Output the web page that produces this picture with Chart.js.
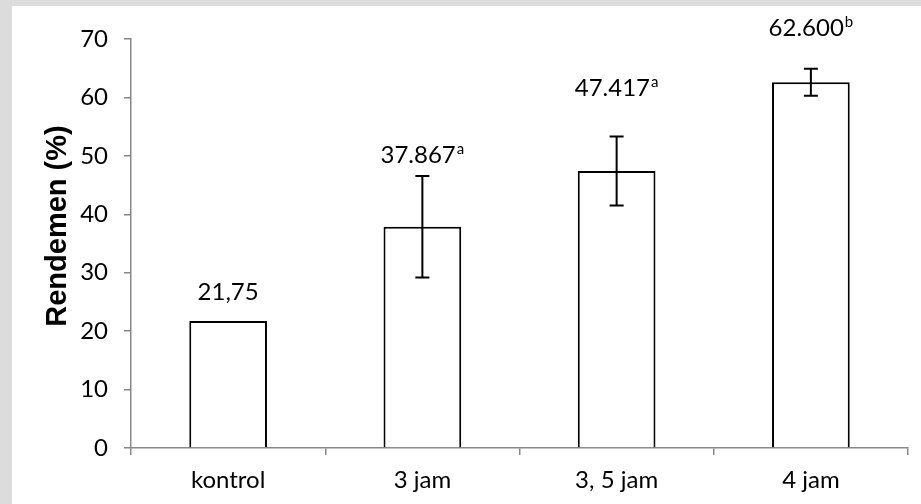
<!DOCTYPE html>
<html>
<head>
<meta charset="utf-8">
<script src="https://cdn.jsdelivr.net/npm/chart.js@4.4.1/dist/chart.umd.min.js"></script>
<style>
  html, body { margin: 0; padding: 0; background: #dcdcdc; }
  #wrap { width: 921px; height: 504px; position: relative; }
  canvas { display: block; }
</style>
</head>
<body>
<div id="wrap"><canvas id="c" width="921" height="504"></canvas></div>
<script>
// Treatment durations and mean yield (rendemen, %)
const categories = ['kontrol', '3 jam', '3, 5 jam', '4 jam'];
const yieldValues = [21.75, 37.867, 47.417, 62.6];
// Standard deviation shown as error bars (none for the control)
const yieldErrors = [0, 8.7, 5.9, 2.3];
// Value labels with significance letters
const labelTexts = ['21,75', '37.867', '47.417', '62.600'];
const labelLetters = ['', 'a', 'a', 'b'];
// Heights (in % units) at which each value label is centred
const labelLevels = [26.7, 50.1, 61.6, 71.9];
const yTicks = [0, 10, 20, 30, 40, 50, 60, 70];
const yTitle = 'Rendemen (%)';

const TEXT_FONT = 'Lato, "Open Sans", sans-serif';
const AXIS_GREY = '#878787';

// White page behind the plot
const pagePlugin = {
  id: 'page',
  beforeDraw(chart) {
    const ctx = chart.ctx;
    ctx.save();
    ctx.fillStyle = '#ffffff';
    ctx.fillRect(12, 6, chart.width - 12, chart.height - 6);
    ctx.restore();
  }
};

// Rotated y-axis title
const yTitlePlugin = {
  id: 'yTitle',
  afterDraw(chart) {
    const ctx = chart.ctx;
    ctx.save();
    ctx.translate(58, 226);
    ctx.rotate(-Math.PI / 2);
    ctx.fillStyle = '#000';
    ctx.font = 'bold 29px "Liberation Sans", Arial, sans-serif';
    ctx.textAlign = 'center';
    ctx.textBaseline = 'middle';
    ctx.fillText(yTitle, 0, 0);
    ctx.restore();
  }
};

// Error bars with caps
const errorBarPlugin = {
  id: 'errorBars',
  afterDatasetsDraw(chart) {
    const ctx = chart.ctx;
    const meta = chart.getDatasetMeta(0);
    const y = chart.scales.y;
    ctx.save();
    ctx.strokeStyle = '#000';
    ctx.lineWidth = 2;
    meta.data.forEach((bar, i) => {
      const e = yieldErrors[i];
      if (!e) return;
      const v = yieldValues[i];
      const yTop = y.getPixelForValue(v + e);
      const yBot = y.getPixelForValue(v - e);
      const x = bar.x;
      const cap = 7;
      ctx.beginPath();
      ctx.moveTo(x, yTop); ctx.lineTo(x, yBot);
      ctx.moveTo(x - cap, yTop); ctx.lineTo(x + cap, yTop);
      ctx.moveTo(x - cap, yBot); ctx.lineTo(x + cap, yBot);
      ctx.stroke();
    });
    ctx.restore();
  }
};

// Value labels with superscript letters
const valueLabelPlugin = {
  id: 'valueLabels',
  afterDatasetsDraw(chart) {
    const ctx = chart.ctx;
    const meta = chart.getDatasetMeta(0);
    const y = chart.scales.y;
    ctx.save();
    ctx.fillStyle = '#000';
    ctx.textBaseline = 'middle';
    meta.data.forEach((bar, i) => {
      const main = labelTexts[i];
      const sup = labelLetters[i];
      ctx.font = '24px ' + TEXT_FONT;
      const wMain = ctx.measureText(main).width;
      ctx.font = '15px ' + TEXT_FONT;
      const wSup = sup ? ctx.measureText(sup).width + 1 : 0;
      const total = wMain + wSup;
      const x0 = bar.x - total / 2;
      const yc = y.getPixelForValue(labelLevels[i]);
      ctx.textAlign = 'left';
      ctx.font = '24px ' + TEXT_FONT;
      ctx.fillText(main, x0, yc);
      if (sup) {
        ctx.font = '15px ' + TEXT_FONT;
        ctx.fillText(sup, x0 + wMain + 1, yc - 6);
      }
    });
    ctx.restore();
  }
};

new Chart(document.getElementById('c'), {
  type: 'bar',
  data: {
    labels: categories,
    datasets: [{
      data: yieldValues,
      backgroundColor: '#ffffff',
      borderColor: '#000000',
      borderWidth: 2,
      borderSkipped: 'bottom',
      barPercentage: 0.4,
      categoryPercentage: 1.0
    }]
  },
  options: {
    responsive: false,
    animation: false,
    events: [],
    layout: { padding: { left: 38, top: 39, right: 13, bottom: 0 } },
    plugins: {
      legend: { display: false },
      tooltip: { enabled: false },
      title: { display: false }
    },
    scales: {
      x: {
        offset: true,
        afterFit(scale) { scale.height = 56; },
        grid: {
          offset: true,
          drawOnChartArea: false,
          drawTicks: true,
          tickLength: 7,
          color: AXIS_GREY,
          lineWidth: 1.5
        },
        border: { color: AXIS_GREY, width: 1.5 },
        ticks: {
          color: '#000',
          padding: 11,
          font: { family: TEXT_FONT, size: 24 },
          maxRotation: 0
        }
      },
      y: {
        min: 0,
        max: 70,
        afterFit(scale) { scale.width = 93; },
        afterBuildTicks(scale) { scale.ticks = yTicks.map(v => ({ value: v })); },
        grid: {
          drawOnChartArea: false,
          drawTicks: true,
          tickLength: 7,
          color: AXIS_GREY,
          lineWidth: 1.5
        },
        border: { color: AXIS_GREY, width: 1.5 },
        ticks: {
          color: '#000',
          padding: 16,
          font: { family: TEXT_FONT, size: 24 }
        }
      }
    }
  },
  plugins: [pagePlugin, errorBarPlugin, valueLabelPlugin, yTitlePlugin]
});
</script>
</body>
</html>
